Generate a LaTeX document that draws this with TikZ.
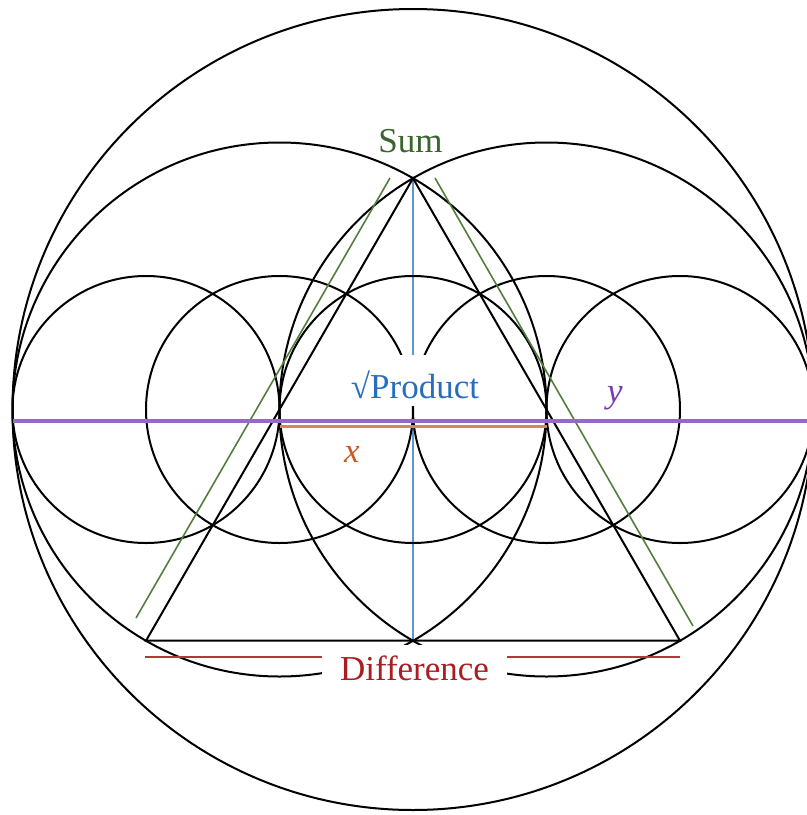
\documentclass[tikz,border=0pt]{standalone}
\usepackage{fontspec}
\setmainfont{Liberation Serif}
\definecolor{sumgreen}{RGB}{60,100,45}
\definecolor{linegreen}{RGB}{85,125,60}
\definecolor{prodblue}{RGB}{40,110,190}
\definecolor{lineblue}{RGB}{95,150,210}
\definecolor{ypurple}{RGB}{120,60,175}
\definecolor{linepurple}{RGB}{150,105,195}
\definecolor{xorange}{RGB}{200,90,35}
\definecolor{lineorange}{RGB}{215,135,90}
\definecolor{diffred}{RGB}{170,30,35}
\definecolor{linered}{RGB}{180,55,55}
\begin{document}
\begin{tikzpicture}[x=0.5pt,y=-0.5pt,
  geo/.style={draw=black,line width=1pt},
  lbl/.style={font=\fontsize{17.5}{21}\selectfont,inner sep=0pt,anchor=base},
  mask/.style={fill=white,draw=none}]
\useasboundingbox (0,0) rectangle (807,815);
\clip (0,0) rectangle (807,815);
\fill[white] (0,0) rectangle (807,815);
% key points
\coordinate (C) at (413,409.5);
\coordinate (A) at (413,178.3);
\coordinate (BL) at (146,640.7);
\coordinate (BR) at (680,640.7);
\coordinate (BM) at (413,640.7);
% blue vertical
\draw[lineblue,line width=1.4pt] (A) -- (BM);
% circles
\draw[geo] (C) circle[radius=400.5];
\foreach \cx in {146,279.5,413,546.5,680}
  \draw[geo] (\cx,409.5) circle[radius=133.5];
\draw[geo] (279.5,409.5) circle[radius=267];
\draw[geo] (546.5,409.5) circle[radius=267];
% triangle
\draw[geo,line join=miter] (A) -- (BL) -- (BR) -- cycle;
% green lines
\coordinate (g1a) at (390,178); \coordinate (g1b) at (136,618);
\coordinate (g2a) at (435,178); \coordinate (g2b) at (693,626);
\draw[linegreen,line width=0.8pt] (g1a) -- (g1b);
\draw[linegreen,line width=0.8pt] (g2a) -- (g2b);
% purple and orange lines
\coordinate (p1) at (13,421); \coordinate (p2) at (807,421);
\draw[linepurple,line width=1.6pt] (p1) -- (p2);
\coordinate (o1) at (280,426); \coordinate (o2) at (547,426);
\draw[lineorange,line width=1.5pt] (o1) -- (o2);
% red lines
\coordinate (r1) at (145,657); \coordinate (r2) at (680,657);
\draw[linered,line width=1.1pt] (r1) -- (r2);
% masks
\path[mask] (350,355) rectangle (479,406);
\path[mask] (322,645) rectangle (507,692);
% labels
\node[lbl,text=sumgreen] (sum) at (410.5,152) {Sum};
\node[lbl,text=prodblue] (prod) at (415,398) {√Product};
\node[lbl,text=diffred] (diff) at (414.5,680) {Difference};
\node[lbl,text=xorange] (xl) at (352,462) {\itshape x};
\node[lbl,text=ypurple] (yl) at (615,402) {\itshape y};
\end{tikzpicture}
\end{document}
